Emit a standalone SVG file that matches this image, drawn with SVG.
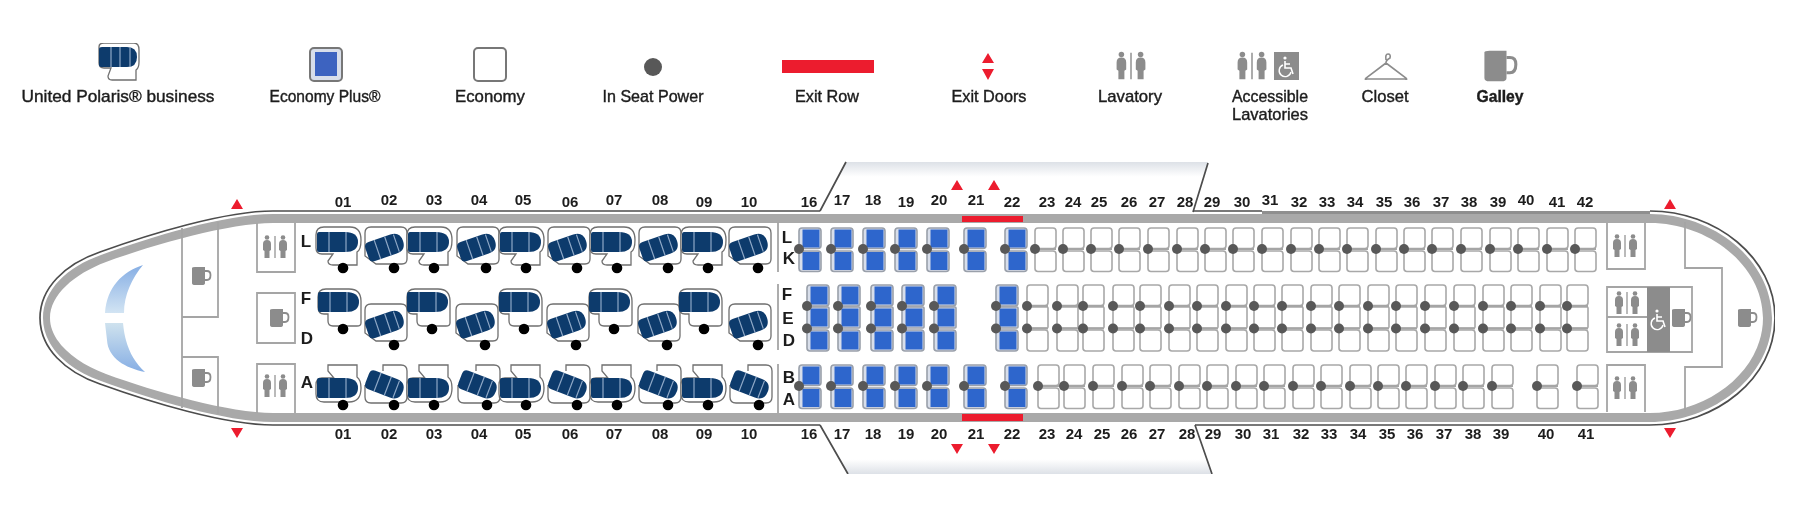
<svg xmlns="http://www.w3.org/2000/svg" width="1810" height="508" viewBox="0 0 1810 508">
<style>
text{font-family:"Liberation Sans",Arial,sans-serif;fill:#1c1c1c}
.n{font-size:15px;font-weight:700;text-anchor:middle}
.c{font-size:17px;font-weight:700;text-anchor:middle}
.lg{font-size:17px;text-anchor:middle;stroke:#1c1c1c;stroke-width:.4}
.st{fill:none;stroke:#a5a5a5;stroke-width:1.8}
.box{fill:#fff;stroke:#a8a8a8;stroke-width:1.6}
.bz{fill:#fff;stroke:#6f6f6f;stroke-width:1.3}
.sea{fill:#0d3a6c}
.str{stroke:#8ea8c6;stroke-width:1.2;fill:none}
.ep{fill:#d8deea;stroke:#9aa0aa;stroke-width:1.6}
.blue{fill:#2f66cc}
.pw{fill:#585858}
.bd{fill:#000}
.ln{stroke:#a5a5a5;stroke-width:2;fill:none}
.red{fill:#ec1c2e}
.wl{stroke:#4d4d4d;stroke-width:1.7;fill:none}
.ic{fill:#8c8c8c}
.band{fill:#a9a9a9}
</style>
<defs>
<filter id="soft" x="0" y="0" width="100%" height="100%"><feGaussianBlur stdDeviation="0.45"/></filter>
<linearGradient id="wt" x1="0" y1="0" x2="0" y2="1"><stop offset="0" stop-color="#dde1e7"/><stop offset=".3" stop-color="#ffffff"/></linearGradient>
<linearGradient id="wb" x1="0" y1="1" x2="0" y2="0"><stop offset="0" stop-color="#dde1e7"/><stop offset=".3" stop-color="#ffffff"/></linearGradient>
<linearGradient id="w1" x1="0" y1="0" x2="0" y2="1"><stop offset="0" stop-color="#86aee4"/><stop offset="1" stop-color="#d2e4f3"/></linearGradient>
<linearGradient id="w2" x1="0" y1="0" x2="0" y2="1"><stop offset="0" stop-color="#cfe2ee"/><stop offset="1" stop-color="#86aee4"/></linearGradient>
<g id="seat"><path class="sea" d="M-19-10H7Q20-10 20 0Q20 10 7 10H-19Q-21 10-21 8V-8Q-21-10-19-10Z"/><path class="str" d="M-9-10V10M8-10V10"/></g>
<g id="seatb"><path class="sea" d="M-14-10H9Q19-10 19 0Q19 10 9 10H-14Q-19 10-19 5V-5Q-19-10-14-10Z"/><path class="str" d="M-8-10V10M3-10V10M12-9V9"/></g>
<g id="bs-t"><path class="bz" d="M-27-33Q-27-41-19-41H7Q18-41 18-28Q18-18 14-16V-3H-10Q-15-3-15-7L-10-14H-21Q-27-14-27-20Z"/><use href="#seat" x="-5" y="-26"/><circle class="bd" cy="0" r="5.3"/></g>
<g id="bs-m"><path class="bz" d="M-25-32Q-25-40-17-40H6Q18-40 18-28V-6Q18-3 14-3H-10Q-15-3-15-8V-15H-19Q-25-15-25-22Z"/><use href="#seat" x="-4" y="-27"/><circle class="bd" r="5.3"/></g>
<g id="bs-b"><path class="bz" d="M-15-40H14V-28Q18-25 18-17Q18-3 6-3H-19Q-27-3-27-11V-20Q-27-27-21-27H-9L-15-34Z"/><use href="#seat" x="-5" y="-17"/><circle class="bd" r="5.3"/></g>
<g id="ba-t"><path class="bz" d="M-29-35Q-29-41-23-41H7Q13-41 13-35V-9Q13-4 8-4H-18L-29-12Z"/><use href="#seatb" transform="translate(-9 -21) rotate(-19)"/><circle class="bd" r="5.3"/></g>
<g id="ba-b"><path class="bz" d="M-11-34V-40H7Q13-40 13-34V-8Q13-2 7-2H-23Q-29-2-29-8V-20"/><use href="#seatb" transform="translate(-9 -20) rotate(21)"/><circle class="bd" r="5.3"/></g>
<g id="e2"><rect class="box" x="0" y="-21" width="21" height="20.500" rx="3"/><rect class="box" x="0" y="2" width="21" height="20.500" rx="3"/><path class="ln" d="M0 0H21"/><circle class="pw" r="5"/></g>
<g id="e3"><rect class="box" x="0" y="-21" width="21" height="20.500" rx="3"/><rect class="box" x="0" y="1" width="21" height="21" rx="1"/><rect class="box" x="0" y="24" width="21" height="21" rx="3"/><path class="ln" d="M0 0H21M0 22.500H21"/><circle class="pw" r="5"/><circle class="pw" cy="22.500" r="5"/></g>
<g id="p2"><rect class="ep" x="0" y="-21" width="22" height="20.500" rx="3"/><rect class="ep" x="0" y="2" width="22" height="20.500" rx="3"/><rect class="blue" x="3.500" y="-19.500" width="17" height="18"/><rect class="blue" x="3.500" y="3" width="17" height="18"/><circle class="pw" r="5"/></g>
<g id="p3"><rect class="ep" x="0" y="-21" width="22" height="21" rx="3"/><rect class="ep" x="0" y="1" width="22" height="21" rx="1"/><rect class="ep" x="0" y="24" width="22" height="21" rx="3"/><rect class="blue" x="3.500" y="-19.500" width="17" height="18"/><rect class="blue" x="3.500" y="2.500" width="17" height="18"/><rect class="blue" x="3.500" y="25.500" width="17" height="18"/><circle class="pw" r="5"/><circle class="pw" cy="22.500" r="5"/></g>
<g id="mug"><path class="ic" d="M-8-8Q-8-9-5-9H5V7Q5 9 2 9H-5Q-8 9-8 7Z"/><path d="M5-5H7Q10.500-5 10.500-1Q10.500 4 7 4H5" fill="none" stroke="#8c8c8c" stroke-width="1.800"/></g>
<g id="lav"><g id="pers"><circle class="ic" cx="-8" cy="-9.500" r="2.300"/><path class="ic" d="M-8-7Q-12-7-12-3V3L-10.500 4V11H-5.500V4L-4 3V-3Q-4-7-8-7Z"/></g><use href="#pers" x="16"/><path d="M0-11V11" stroke="#8c8c8c" stroke-width="1.200"/></g>
<g id="wc"><circle cx="-1" cy="-9" r="1.600" fill="#fff"/><path d="M-1-6V1H5L7 7M-1-3H4" fill="none" stroke="#fff" stroke-width="1.600"/><path d="M-3-2A6 6 0 1 0 5 5" fill="none" stroke="#fff" stroke-width="1.400"/></g>
<path id="up" d="M-6 5L0-5L6 5Z" class="red"/>
<path id="dn" d="M-6-5L0 5L6-5Z" class="red"/>
</defs>
<rect width="1810" height="508" fill="#fff"/>
<g filter="url(#soft)">
<g id="legend">
<g id="lg-business"><path class="bz" d="M99 47Q99 43 104 43H134Q139 43 139 50V62Q139 68 136 70V80H112Q108 80 108 76L111 68H104Q99 68 99 63Z"/><path class="sea" d="M99 49Q99 47 102 47H127Q137 47 137 57Q137 67 127 67H102Q99 67 99 65Z"/><path class="str" d="M111 47V67M120 47V67M130 47V67"/><text class="lg" x="118" y="102" textLength="193" lengthAdjust="spacingAndGlyphs">United Polaris® business</text></g>
<g id="lg-plus"><rect x="310" y="48" width="32" height="33" rx="4" fill="#d8deea" stroke="#777" stroke-width="2"/><rect x="315" y="52" width="22" height="24" fill="#3d63c0"/><text class="lg" x="325" y="102" textLength="111" lengthAdjust="spacingAndGlyphs">Economy Plus®</text></g>
<g id="lg-economy"><rect x="474" y="48" width="32" height="33" rx="4" fill="#fff" stroke="#777" stroke-width="2"/><text class="lg" x="490" y="102" textLength="70" lengthAdjust="spacingAndGlyphs">Economy</text></g>
<g id="lg-power"><circle class="pw" cx="653" cy="67" r="9"/><text class="lg" x="653" y="102" textLength="101" lengthAdjust="spacingAndGlyphs">In Seat Power</text></g>
<g id="lg-exitrow"><rect class="red" x="782" y="60" width="92" height="13"/><text class="lg" x="827" y="102" textLength="64" lengthAdjust="spacingAndGlyphs">Exit Row</text></g>
<g id="lg-exitdoors"><path class="red" d="M982 63L988 53L994 63ZM982 69L988 80L994 69Z"/><text class="lg" x="989" y="102" textLength="75" lengthAdjust="spacingAndGlyphs">Exit Doors</text></g>
<g id="lg-lav"><use href="#lav" transform="translate(1131 66) scale(1.200)"/><text class="lg" x="1130" y="102" textLength="64" lengthAdjust="spacingAndGlyphs">Lavatory</text></g>
<g id="lg-acc"><use href="#lav" transform="translate(1252 66) scale(1.200)"/><rect class="ic" x="1274" y="52" width="25" height="28"/><use href="#wc" x="1286" y="67"/><text class="lg" x="1270" y="102" textLength="76" lengthAdjust="spacingAndGlyphs">Accessible</text><text class="lg" x="1270" y="120" textLength="76" lengthAdjust="spacingAndGlyphs">Lavatories</text></g>
<g id="lg-closet"><path d="M1386 60Q1385 54 1388 54Q1391 54 1390 58Q1386 60 1386 63L1406 78Q1408 80 1405 79H1367Q1364 80 1366 78L1386 63" fill="none" stroke="#8c8c8c" stroke-width="1.600"/><text class="lg" x="1385" y="102" textLength="47" lengthAdjust="spacingAndGlyphs">Closet</text></g>
<g id="lg-galley"><use href="#mug" transform="translate(1498 66) scale(1.700)"/><text class="lg" x="1500" y="102" textLength="47" lengthAdjust="spacingAndGlyphs" font-weight="700">Galley</text></g>
</g>
<g id="wings">
<path d="M820 211L846 162H1208L1193 211Z" fill="url(#wt)"/>
<path d="M820 425L848 474H1212L1195 425Z" fill="url(#wb)"/>
<path class="wl" d="M820 211L846 162M1208 163L1193 212M820 425L848 474M1212 474L1195 425"/>
</g>
<g id="fuselage">
<rect class="band" x="299" y="214" width="1302" height="9"/>
<rect class="band" x="299" y="413" width="1302" height="9"/>
<path class="band" d="M300 214H273C225 214 151 237 101 255C67 267 43 290 43 318C43 346 67 369 101 381C151 399 225 422 273 422H300V413H273C230 413 155 392 106 374C74 362 50 341 50 318C50 295 74 274 106 262C155 244 230 223 273 223H300Z"/>
<path class="band" d="M1600 214H1650C1713 214 1772 260 1772 318C1772 376 1713 422 1650 422H1600V413H1650C1708 413 1763 371 1763 318C1763 265 1708 223 1650 223H1600Z"/>
<path class="wl" d="M820 211H273C225 211 150 234 100 252C65 264 40 288 40 318C40 348 65 372 100 384C150 402 225 425 273 425H820"/>
<path class="wl" d="M1193 211H1262"/>
<path d="M1262 212.500H1650" stroke="#8f8f8f" stroke-width="3" fill="none"/>
<path class="wl" d="M1650 211C1716 211 1775 258 1775 318C1775 378 1716 425 1650 425H1195"/>
<rect class="red" x="962" y="216" width="61" height="6"/>
<rect class="red" x="962" y="414" width="61" height="7"/>
<path fill="url(#w1)" d="M143 265C122 272 107 287 105 313H124C124 295 132 278 143 265Z"/>
<path fill="url(#w2)" d="M105 323H123C125 345 132 360 145 372C125 368 108 358 107 340Z"/>
<path class="st" d="M182 228V408M182 317H218V222M182 357H218V414M257 223V272H295V223M257 293H295V343H257ZM257 413V364H295V413M778 222V272M778 284V350M778 364V413"/>
<path class="st" d="M1645 223V269H1607V223M1607 287H1692V352H1607ZM1607 317H1647M1607 412V365H1645V412M1685 222V268H1722V367H1685V410"/>
<rect class="ic" x="1647" y="287" width="23" height="65"/>
</g>
<g id="monuments">
<use href="#mug" x="200" y="276"/><use href="#mug" x="200" y="378"/><use href="#mug" x="278" y="318"/>
<use href="#lav" x="275" y="247"/><use href="#lav" x="275" y="386"/>
<use href="#lav" x="1625" y="246"/><use href="#lav" x="1627" y="303"/><use href="#lav" x="1627" y="335"/><use href="#lav" x="1625" y="388"/>
<use href="#wc" x="1658" y="320"/><use href="#mug" x="1680" y="318"/><use href="#mug" x="1746" y="318"/>
</g>
<g id="exits">
<use href="#up" x="237" y="204"/><use href="#dn" x="237" y="433"/><use href="#up" x="1670" y="204"/><use href="#dn" x="1670" y="433"/>
<use href="#up" x="957" y="185"/><use href="#up" x="994" y="185"/><use href="#dn" x="957" y="449"/><use href="#dn" x="994" y="449"/>
</g>
<g id="business-seats">
<use href="#bs-t" x="343" y="268"/><use href="#ba-t" x="394" y="268"/><use href="#bs-t" x="434" y="268"/><use href="#ba-t" x="486" y="268"/><use href="#bs-t" x="526" y="268"/><use href="#ba-t" x="577" y="268"/><use href="#bs-t" x="617" y="268"/><use href="#ba-t" x="668" y="268"/><use href="#bs-t" x="708" y="268"/><use href="#ba-t" x="758" y="268"/>
<use href="#bs-m" x="343" y="329"/><use href="#ba-t" x="394" y="345"/><use href="#bs-m" x="432" y="329"/><use href="#ba-t" x="485" y="345"/><use href="#bs-m" x="524" y="329"/><use href="#ba-t" x="576" y="345"/><use href="#bs-m" x="614" y="329"/><use href="#ba-t" x="667" y="345"/><use href="#bs-m" x="704" y="329"/><use href="#ba-t" x="758" y="345"/>
<use href="#bs-b" x="343" y="405"/><use href="#ba-b" x="394" y="405"/><use href="#bs-b" x="434" y="405"/><use href="#ba-b" x="487" y="405"/><use href="#bs-b" x="526" y="405"/><use href="#ba-b" x="577" y="405"/><use href="#bs-b" x="617" y="405"/><use href="#ba-b" x="668" y="405"/><use href="#bs-b" x="708" y="405"/><use href="#ba-b" x="759" y="405"/>
</g>
<g id="plus-seats">
<use href="#p2" x="799" y="249"/><use href="#p2" x="831" y="249"/><use href="#p2" x="863" y="249"/><use href="#p2" x="895" y="249"/><use href="#p2" x="927" y="249"/><use href="#p2" x="964" y="249"/><use href="#p2" x="1005" y="249"/>
<use href="#p3" x="807" y="306"/><use href="#p3" x="838" y="306"/><use href="#p3" x="871" y="306"/><use href="#p3" x="902" y="306"/><use href="#p3" x="934" y="306"/><use href="#p3" x="996" y="306"/>
<use href="#p2" x="799" y="386"/><use href="#p2" x="831" y="386"/><use href="#p2" x="863" y="386"/><use href="#p2" x="895" y="386"/><use href="#p2" x="927" y="386"/><use href="#p2" x="964" y="386"/><use href="#p2" x="1005" y="386"/>
</g>
<g id="economy-seats">
<use href="#e2" x="1035" y="249"/><use href="#e2" x="1063" y="249"/><use href="#e2" x="1091" y="249"/><use href="#e2" x="1119" y="249"/><use href="#e2" x="1148" y="249"/><use href="#e2" x="1177" y="249"/><use href="#e2" x="1205" y="249"/><use href="#e2" x="1233" y="249"/><use href="#e2" x="1262" y="249"/><use href="#e2" x="1291" y="249"/><use href="#e2" x="1319" y="249"/><use href="#e2" x="1347" y="249"/><use href="#e2" x="1376" y="249"/><use href="#e2" x="1404" y="249"/><use href="#e2" x="1432" y="249"/><use href="#e2" x="1461" y="249"/><use href="#e2" x="1490" y="249"/><use href="#e2" x="1518" y="249"/><use href="#e2" x="1547" y="249"/><use href="#e2" x="1575" y="249"/>
<use href="#e3" x="1027" y="306"/><use href="#e3" x="1057" y="306"/><use href="#e3" x="1083" y="306"/><use href="#e3" x="1113" y="306"/><use href="#e3" x="1140" y="306"/><use href="#e3" x="1169" y="306"/><use href="#e3" x="1197" y="306"/><use href="#e3" x="1226" y="306"/><use href="#e3" x="1254" y="306"/><use href="#e3" x="1282" y="306"/><use href="#e3" x="1311" y="306"/><use href="#e3" x="1339" y="306"/><use href="#e3" x="1368" y="306"/><use href="#e3" x="1396" y="306"/><use href="#e3" x="1425" y="306"/><use href="#e3" x="1454" y="306"/><use href="#e3" x="1483" y="306"/><use href="#e3" x="1511" y="306"/><use href="#e3" x="1540" y="306"/><use href="#e3" x="1567" y="306"/>
<use href="#e2" x="1038" y="386"/><use href="#e2" x="1064" y="386"/><use href="#e2" x="1093" y="386"/><use href="#e2" x="1122" y="386"/><use href="#e2" x="1150" y="386"/><use href="#e2" x="1179" y="386"/><use href="#e2" x="1207" y="386"/><use href="#e2" x="1236" y="386"/><use href="#e2" x="1264" y="386"/><use href="#e2" x="1293" y="386"/><use href="#e2" x="1321" y="386"/><use href="#e2" x="1350" y="386"/><use href="#e2" x="1378" y="386"/><use href="#e2" x="1406" y="386"/><use href="#e2" x="1435" y="386"/><use href="#e2" x="1463" y="386"/><use href="#e2" x="1492" y="386"/><use href="#e2" x="1537" y="386"/><use href="#e2" x="1577" y="386"/>
</g>
<g id="column-letters">
<text class="c" x="306" y="247">L</text><text class="c" x="306" y="304">F</text><text class="c" x="307" y="344">D</text><text class="c" x="307" y="388">A</text>
<text class="c" x="787" y="243">L</text><text class="c" x="789" y="264">K</text><text class="c" x="787" y="300">F</text><text class="c" x="788" y="324">E</text><text class="c" x="789" y="346">D</text><text class="c" x="789" y="383">B</text><text class="c" x="789" y="405">A</text>
</g>
<g id="row-numbers-top">
<text class="n" x="343" y="207">01</text><text class="n" x="389" y="205">02</text><text class="n" x="434" y="205">03</text><text class="n" x="479" y="205">04</text><text class="n" x="523" y="205">05</text><text class="n" x="570" y="207">06</text><text class="n" x="614" y="205">07</text><text class="n" x="660" y="205">08</text><text class="n" x="704" y="207">09</text><text class="n" x="749" y="207">10</text><text class="n" x="809" y="207">16</text><text class="n" x="842" y="205">17</text><text class="n" x="873" y="205">18</text><text class="n" x="906" y="207">19</text><text class="n" x="939" y="205">20</text><text class="n" x="976" y="205">21</text><text class="n" x="1012" y="207">22</text><text class="n" x="1047" y="207">23</text><text class="n" x="1073" y="207">24</text><text class="n" x="1099" y="207">25</text><text class="n" x="1129" y="207">26</text><text class="n" x="1157" y="207">27</text><text class="n" x="1185" y="207">28</text><text class="n" x="1212" y="207">29</text><text class="n" x="1242" y="207">30</text><text class="n" x="1270" y="205">31</text><text class="n" x="1299" y="207">32</text><text class="n" x="1327" y="207">33</text><text class="n" x="1355" y="207">34</text><text class="n" x="1384" y="207">35</text><text class="n" x="1412" y="207">36</text><text class="n" x="1441" y="207">37</text><text class="n" x="1469" y="207">38</text><text class="n" x="1498" y="207">39</text><text class="n" x="1526" y="205">40</text><text class="n" x="1557" y="207">41</text><text class="n" x="1585" y="207">42</text>
</g>
<g id="row-numbers-bottom">
<text class="n" x="343" y="439">01</text><text class="n" x="389" y="439">02</text><text class="n" x="434" y="439">03</text><text class="n" x="479" y="439">04</text><text class="n" x="523" y="439">05</text><text class="n" x="570" y="439">06</text><text class="n" x="614" y="439">07</text><text class="n" x="660" y="439">08</text><text class="n" x="704" y="439">09</text><text class="n" x="749" y="439">10</text><text class="n" x="809" y="439">16</text><text class="n" x="842" y="439">17</text><text class="n" x="873" y="439">18</text><text class="n" x="906" y="439">19</text><text class="n" x="939" y="439">20</text><text class="n" x="976" y="439">21</text><text class="n" x="1012" y="439">22</text><text class="n" x="1047" y="439">23</text><text class="n" x="1074" y="439">24</text><text class="n" x="1102" y="439">25</text><text class="n" x="1129" y="439">26</text><text class="n" x="1157" y="439">27</text><text class="n" x="1187" y="439">28</text><text class="n" x="1213" y="439">29</text><text class="n" x="1243" y="439">30</text><text class="n" x="1271" y="439">31</text><text class="n" x="1301" y="439">32</text><text class="n" x="1329" y="439">33</text><text class="n" x="1358" y="439">34</text><text class="n" x="1387" y="439">35</text><text class="n" x="1415" y="439">36</text><text class="n" x="1444" y="439">37</text><text class="n" x="1473" y="439">38</text><text class="n" x="1501" y="439">39</text><text class="n" x="1546" y="439">40</text><text class="n" x="1586" y="439">41</text>
</g>
</g>
</svg>
